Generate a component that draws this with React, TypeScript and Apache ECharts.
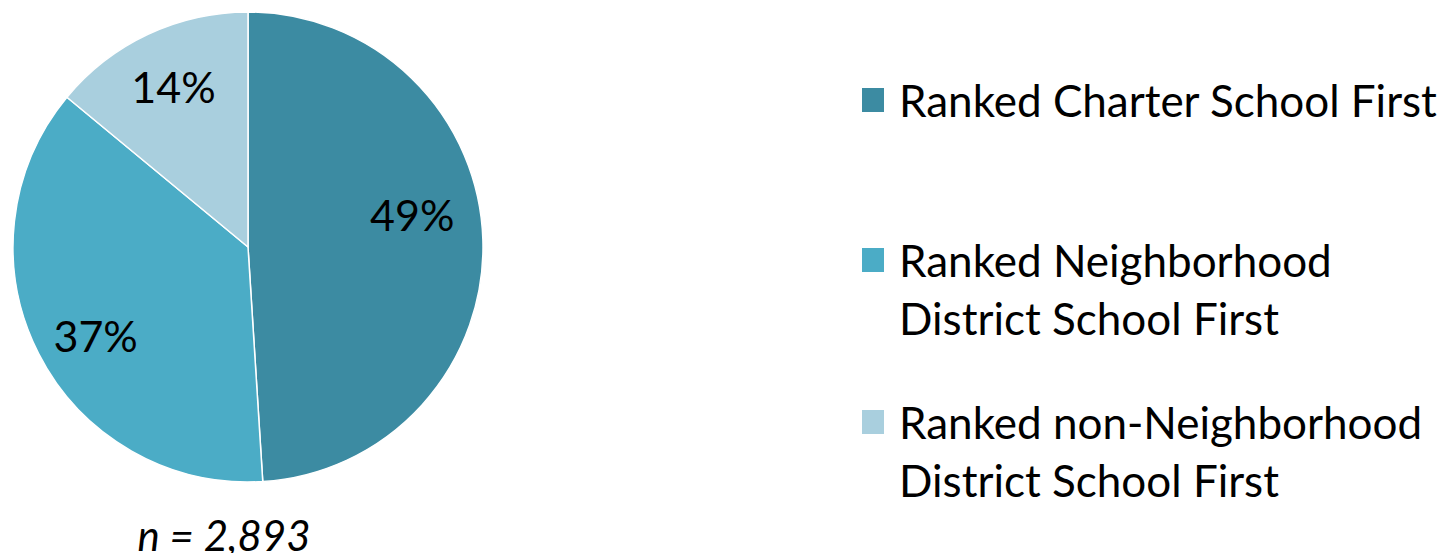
import React, { useEffect, useRef } from "react";
import * as echarts from "echarts";

const categories = [
  "Ranked Charter School First",
  "Ranked Neighborhood District School First",
  "Ranked non-Neighborhood District School First",
];
const legendLabels = [
  "Ranked Charter School First",
  "Ranked Neighborhood\nDistrict School First",
  "Ranked non-Neighborhood\nDistrict School First",
];
const values = [49, 37, 14];
const colors = ["#3C8BA2", "#4BACC6", "#A9CFDE"];
const sampleNote = "n = 2,893";

const FONT = "Lato, 'Open Sans', sans-serif";
const CX = 248;
const CY = 247;
const R = 235;
const labelDist = [167, 177, 175];
const labelShift = [-8.6, -3.6, 0];
const legendIconCenters = [100, 260, 422];

export default function App() {
  const ref = useRef<HTMLDivElement>(null);
  useEffect(() => {
    if (!ref.current) return;
    const chart = echarts.init(ref.current, null, { renderer: "svg" });
    const total = values.reduce((a, b) => a + b, 0);
    const cum: number[] = [];
    let acc = 0;
    values.forEach((v) => {
      cum.push(acc);
      acc += v;
    });
    const legends = categories.map((name, i) => {
      const twoLine = legendLabels[i].includes("\n");
      return {
        show: true,
        left: 860,
        top: legendIconCenters[i] - 13 - (twoLine ? 87 - 13 : 29 - 13),
        padding: 0,
        orient: "vertical",
        icon: "rect",
        itemWidth: 24,
        itemHeight: 26,
        selectedMode: false,
        data: [{ name }],
        formatter: () => (twoLine ? "\n" + legendLabels[i] : legendLabels[i]),
        textStyle: {
          fontFamily: FONT,
          fontSize: 44,
          lineHeight: 58,
          color: "#000",
          padding: [0, 0, 0, 9],
        },
      };
    });
    chart.setOption({
      animation: false,
      color: colors,
      title: {
        text: sampleNote,
        left: 224,
        top: 517,
        textAlign: "center",
        padding: 0,
        textStyle: {
          fontFamily: FONT,
          fontSize: 42,
          fontStyle: "italic",
          fontWeight: "normal",
          color: "#000",
          lineHeight: 36,
        },
      },
      legend: legends,
      series: [
        {
          type: "pie",
          center: [CX, CY],
          radius: [0, R],
          startAngle: 90,
          clockwise: true,
          data: categories.map((name, i) => ({ name, value: values[i] })),
          itemStyle: { borderColor: "#ffffff", borderWidth: 1.5 },
          label: {
            show: true,
            position: "inside",
            formatter: (p: any) => `${p.value}%`,
            fontFamily: FONT,
            fontSize: 43,
            color: "#000",
          },
          labelLine: { show: false },
          labelLayout: (p: any) => {
            const i = p.dataIndex;
            const a =
              ((360 * (cum[i] + values[i] / 2)) / total + labelShift[i]) *
              (Math.PI / 180);
            return {
              x: CX + labelDist[i] * Math.sin(a),
              y: CY - labelDist[i] * Math.cos(a) - 2,
              align: "center",
              verticalAlign: "middle",
            };
          },
          emphasis: { disabled: true },
        },
      ],
    });
    return () => chart.dispose();
  }, []);
  return (
    <div
      ref={ref}
      style={{ position: "absolute", left: 0, top: 0, width: 1441, height: 553 }}
    />
  );
}
